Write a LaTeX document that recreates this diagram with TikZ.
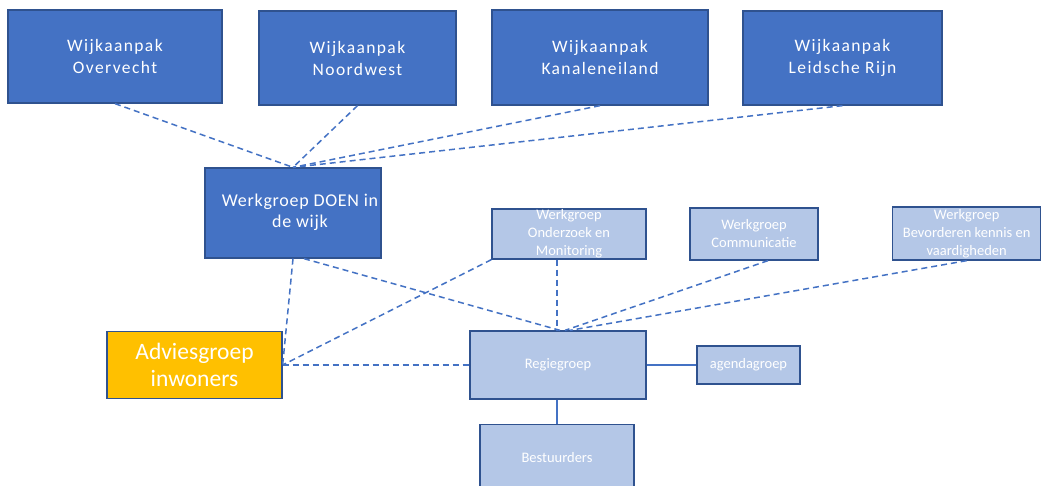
\documentclass[tikz,border=0pt]{standalone}
\usepackage{fontspec}
\setmainfont{Carlito}
\definecolor{dblue}{HTML}{4472C4}
\definecolor{bord}{HTML}{2F528F}
\definecolor{lblue}{HTML}{B4C7E7}
\definecolor{orng}{HTML}{FFC000}
\begin{document}
\begin{tikzpicture}[x=1pt,y=-1pt,
  darkbox/.style={draw=bord,line width=1.3pt,fill=dblue,text=white,align=center,inner sep=0pt,
     font=\fontsize{17.5}{22}\selectfont\addfontfeatures{LetterSpace=8}},
  lightbox/.style={draw=bord,line width=1.3pt,fill=lblue,text=white,align=center,inner sep=0pt,
     font=\fontsize{14.5}{18}\selectfont},
  orangebox/.style={draw=bord,line width=1.3pt,fill=orng,text=white,align=center,inner sep=0pt,
     font=\fontsize{23.5}{27}\selectfont},
  link/.style={draw=dblue,line width=1.5pt,dash pattern=on 6pt off 4pt},
  solidlink/.style={draw=dblue,line width=1.3pt}]
\useasboundingbox (0,0) rectangle (1044,486);
\fill[white] (0,0) rectangle (1044,486);
\begin{scope}
\clip (0,0) rectangle (1044,486);
\node[darkbox,minimum width=214,minimum height=93] (ov) at (115,56.5) {Wijkaanpak\\Overvecht};
\node[darkbox,minimum width=197,minimum height=94] (nw) at (357.5,58) {Wijkaanpak\\Noordwest};
\node[darkbox,minimum width=216,minimum height=95] (ke) at (600,57.5) {Wijkaanpak\\Kanaleneiland};
\node[darkbox,minimum width=199,minimum height=94] (lr) at (842.5,58) {Wijkaanpak\\Leidsche Rijn};
\node[darkbox,minimum width=176,minimum height=90] (doen) at (293,213) {};
\node[text=white,align=center,inner sep=0pt,font=\fontsize{18}{21}\selectfont\addfontfeatures{LetterSpace=4}] (doent) at (300,212) {Werkgroep DOEN in\\de wijk};
\node[lightbox,minimum width=154,minimum height=50] (oz) at (569,234) {Werkgroep\\Onderzoek en\\Monitoring};
\node[lightbox,minimum width=128,minimum height=52] (co) at (754,234) {Werkgroep\\Communicatie};
\node[lightbox,minimum width=148,minimum height=53,anchor=west] (bk) at (892,233.5) {Werkgroep\\Bevorderen kennis en\\vaardigheden};
\node[orangebox,minimum width=175,minimum height=67] (ad) at (194.5,365) {Adviesgroep\\inwoners};
\node[lightbox,minimum width=176,minimum height=68] (rg) at (558,365) {Regiegroep};
\node[lightbox,minimum width=103,minimum height=38] (ag) at (748.5,365) {agendagroep};
\node[lightbox,minimum width=154,minimum height=66,anchor=north] (bs) at (557,424) {\raisebox{-4pt}{Bestuurders}};
\end{scope}
% connectors
\draw[link] (ov.south) -- (doen.north);
\draw[link] (nw.south) -- (doen.north);
\draw[link] (ke.south) -- (doen.north);
\draw[link] (lr.south) -- (doen.north);
\draw[link] (doen.south) -- (ad.east);
\draw[link] ([xshift=11pt]doen.south) -- ([xshift=2pt]rg.north);
\draw[link] (oz.south west) -- (ad.east);
\draw[link] ([xshift=-12pt]oz.south) -- ([xshift=-1pt]rg.north);
\draw[link] ([xshift=14pt]co.south) -- ([xshift=7pt]rg.north);
\draw[link] (bk.south) -- ([xshift=12pt]rg.north);
\draw[link] (ad.east) -- (rg.west);
\draw[solidlink] (rg.east) -- (ag.west);
\draw[solidlink] ([xshift=-1pt]rg.south) -- (bs.north);
\end{tikzpicture}
\end{document}
